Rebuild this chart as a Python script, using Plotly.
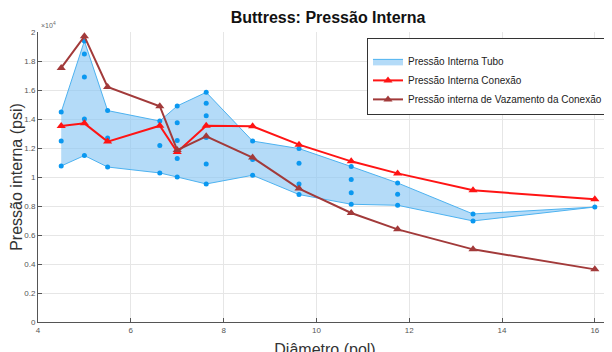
import plotly.graph_objects as go

diametros = [4.5, 5.0, 5.5, 6.625, 7.0, 7.625, 8.625, 9.625, 10.75, 11.75, 13.375, 16.0]

# Pressão interna tubo (psi) - several grades per diameter
tubo_pontos = [
    [14480, 12480, 10760],
    [19380, 18480, 16900, 14000, 11480],
    [14580, 12690, 10690],
    [13860, 12170, 10280],
    [14900, 13750, 12510, 11270, 10000],
    [15840, 15080, 14230, 12720, 10900, 9520],
    [12480, 11200, 10120],
    [11960, 10940, 9520, 8790],
    [10720, 9820, 8920, 8120],
    [9590, 8810, 8050],
    [7450, 6970],
    [7930],
]

conexao = [13520, 13700, 12440, 13540, 11720, 13540, 13500, 12230, 11080, 10250, 9080, 8460]
vazamento = [17520, 19700, 16210, 14880, 11860, 12810, 11340, 9200, 7520, 6390, 5010, 3630]

ytick_vals = [0, 2000, 4000, 6000, 8000, 10000, 12000, 14000, 16000, 18000, 20000]
ytick_text = ["0", "0.2", "0.4", "0.6", "0.8", "1", "1.2", "1.4", "1.6", "1.8", "2"]
xtick_vals = [4, 6, 8, 10, 12, 14, 16]

superior = [max(p) for p in tubo_pontos]
inferior = [min(p) for p in tubo_pontos]

fig = go.Figure()

fig.add_trace(go.Scatter(
    x=diametros + diametros[::-1],
    y=superior + inferior[::-1],
    fill="toself",
    fillcolor="rgba(140,200,245,0.65)",
    line=dict(color="#4db2f0", width=1),
    mode="lines",
    name="Pressão Interna Tubo",
))

px, py = [], []
for d, pts in zip(diametros, tubo_pontos):
    for v in pts:
        px.append(d)
        py.append(v)
fig.add_trace(go.Scatter(
    x=px, y=py, mode="markers",
    marker=dict(color="#0a98f0", size=5),
    showlegend=False,
))

fig.add_trace(go.Scatter(
    x=diametros, y=conexao, mode="lines+markers",
    line=dict(color="#ff1414", width=2),
    marker=dict(symbol="triangle-up", size=8, color="#ff1414"),
    name="Pressão Interna Conexão",
))

fig.add_trace(go.Scatter(
    x=diametros, y=vazamento, mode="lines+markers",
    line=dict(color="#a23a3a", width=2),
    marker=dict(symbol="triangle-up", size=8, color="#a23a3a"),
    name="Pressão interna de Vazamento da Conexão",
))

fig.update_layout(
    width=612, height=352,
    margin=dict(l=30, r=8, t=24, b=38, autoexpand=False),
    paper_bgcolor="white", plot_bgcolor="white",
    font=dict(family="Liberation Sans, Arial, sans-serif", color="#262626"),
    title=dict(text="<b>Buttress: Pressão Interna</b>", x=0.523, xanchor="center",
               y=0.972, yref="container", yanchor="middle",
               font=dict(size=16, color="#111111")),
    legend=dict(x=0.993, y=0.979, xanchor="right", yanchor="top",
                bgcolor="white", bordercolor="#333333", borderwidth=1,
                font=dict(size=10, color="#222222"),
                title=dict(text=" ", font=dict(size=6)),
                tracegroupgap=0, itemwidth=30),
    showlegend=True,
)

fig.update_xaxes(
    range=[4, 16.37], tickvals=xtick_vals, ticks="inside", ticklen=4,
    tickcolor="#555555", showline=True, linecolor="#555555", linewidth=1,
    showgrid=True, gridcolor="#e6e6e6", zeroline=False, automargin=False,
    tickfont=dict(size=8, color="#555555"),
    title=dict(text="Diâmetro (pol)", font=dict(size=16, color="#333333"), standoff=10),
)
fig.update_yaxes(
    range=[0, 20000], tickvals=ytick_vals, ticktext=ytick_text, ticks="inside", ticklen=4,
    tickcolor="#555555", showline=True, linecolor="#555555", linewidth=1,
    showgrid=True, gridcolor="#e6e6e6", zeroline=False, automargin=False,
    tickfont=dict(size=8, color="#555555"),
    title=dict(text="Pressão interna (psi)", font=dict(size=16, color="#333333"), standoff=6),
)

fig.add_annotation(text="×10<sup>4</sup>", x=0, y=1, xref="paper", yref="paper",
                   xanchor="left", yanchor="bottom", showarrow=False,
                   font=dict(size=7, color="#666666"), xshift=1, yshift=1)

fig.write_html("out.html")
